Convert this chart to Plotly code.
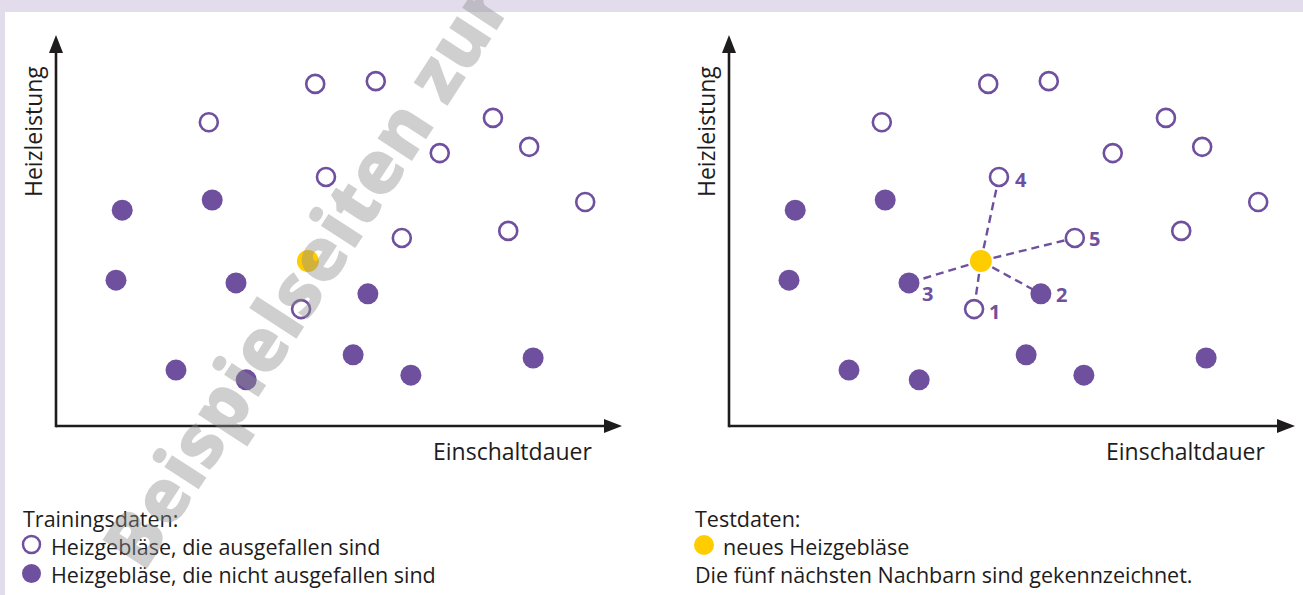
import plotly.graph_objects as go

# ---------------- data (axis units 0..10) ----------------
failed_x = [4.58, 5.65, 2.70, 7.72, 6.78, 8.36, 4.77, 9.35, 6.11, 7.99, 4.33]
failed_y = [8.75, 8.82, 7.77, 7.88, 6.98, 7.14, 6.37, 5.73, 4.81, 4.99, 2.99]

ok_x = [1.17, 2.76, 1.06, 3.18, 5.51, 2.12, 3.36, 5.25, 6.27, 8.43]
ok_y = [5.52, 5.78, 3.73, 3.66, 3.38, 1.43, 1.18, 1.82, 1.30, 1.74]

new_x = [4.45]
new_y = [4.22]

# five nearest neighbours: (group, index) in rank order 1..5
neighbor_ranks = ["1", "2", "3", "4", "5"]
neighbor_refs = [("failed", 10), ("ok", 4), ("ok", 3), ("failed", 6), ("failed", 8)]

x_title = "Einschaltdauer"
y_title = "Heizleistung"
legend_left = ["Trainingsdaten:", "Heizgebläse, die ausgefallen sind",
               "Heizgebläse, die nicht ausgefallen sind"]
legend_right = ["Testdaten:", "neues Heizgebläse",
                "Die fünf nächsten Nachbarn sind gekennzeichnet."]
watermark = "Beispielseiten zur"

# ---------------- style ----------------
W, H = 1303, 595
PURPLE = "#6f509f"
YELLOW = "#ffcc00"
INK = "#1e1c1c"
FONT = "Open Sans"
# label offsets (pixels) for neighbour numbers
label_shift = [(20, -2), (21, -1), (19, -11), (22, -3), (20, -1)]


def px(x):
    return x / W


def py(y):
    return 1 - y / H


fig = go.Figure()
annotations = []

panels = [
    dict(xa="x", ya="y", x0=56, x1=622, knn=False),
    dict(xa="x2", ya="y2", x0=729, x1=1295, knn=True),
]
Y_BOTTOM, Y_TOP = 426, 35

for p in panels:
    if p["knn"]:
        lx, ly = [], []
        for grp, i in neighbor_refs:
            gx = failed_x if grp == "failed" else ok_x
            gy = failed_y if grp == "failed" else ok_y
            lx += [new_x[0], gx[i], None]
            ly += [new_y[0], gy[i], None]
        fig.add_trace(go.Scatter(x=lx, y=ly, mode="lines", xaxis=p["xa"], yaxis=p["ya"],
                                 line=dict(color=PURPLE, width=2.4, dash="8px,5px"),
                                 hoverinfo="skip", showlegend=False))
    fig.add_trace(go.Scatter(x=failed_x, y=failed_y, mode="markers", xaxis=p["xa"], yaxis=p["ya"],
                             marker=dict(size=18, color="white", line=dict(color=PURPLE, width=2.6)),
                             cliponaxis=False, showlegend=False))
    fig.add_trace(go.Scatter(x=ok_x, y=ok_y, mode="markers", xaxis=p["xa"], yaxis=p["ya"],
                             marker=dict(size=21, color=PURPLE, line=dict(width=0)),
                             cliponaxis=False, showlegend=False))
    fig.add_trace(go.Scatter(x=new_x, y=new_y, mode="markers", xaxis=p["xa"], yaxis=p["ya"],
                             marker=dict(size=22, color=YELLOW, line=dict(width=0)),
                             cliponaxis=False, showlegend=False))

    if p["knn"]:
        for (grp, i), r, (dx, dy) in zip(neighbor_refs, neighbor_ranks, label_shift):
            gx = failed_x if grp == "failed" else ok_x
            gy = failed_y if grp == "failed" else ok_y
            annotations.append(dict(x=gx[i], y=gy[i], xref=p["xa"], yref=p["ya"], text=r,
                                    showarrow=False, xshift=dx, yshift=dy,
                                    font=dict(family=FONT, size=20, color=PURPLE, weight="bold")))

axis_common = dict(visible=False, range=[0, 10], fixedrange=True)
layout_axes = {}
for k, p in enumerate(panels, start=1):
    sfx = "" if k == 1 else str(k)
    layout_axes["xaxis" + sfx] = dict(axis_common, domain=[px(p["x0"]), px(p["x1"])],
                                      anchor="y" + sfx)
    layout_axes["yaxis" + sfx] = dict(axis_common, domain=[py(Y_BOTTOM), py(Y_TOP)],
                                      anchor="x" + sfx)

shapes = [
    dict(type="rect", xref="paper", yref="paper", x0=0, x1=1, y0=py(12), y1=1,
         fillcolor="#e2dcec", line=dict(width=0), layer="below"),
    dict(type="rect", xref="paper", yref="paper", x0=0, x1=px(5), y0=0, y1=1,
         fillcolor="#e2dcec", line=dict(width=0), layer="below"),
]
for p in panels:
    ox, tipx = p["x0"], p["x1"]
    # axis lines
    shapes.append(dict(type="line", xref="paper", yref="paper",
                       x0=px(ox), x1=px(tipx - 14), y0=py(Y_BOTTOM), y1=py(Y_BOTTOM),
                       line=dict(color=INK, width=2.6)))
    shapes.append(dict(type="line", xref="paper", yref="paper",
                       x0=px(ox), x1=px(ox), y0=py(Y_BOTTOM + 1.3), y1=py(Y_TOP + 14),
                       line=dict(color=INK, width=2.6)))
    # arrow heads
    shapes.append(dict(type="path", xref="paper", yref="paper",
                       path=f"M {px(tipx)} {py(Y_BOTTOM)} L {px(tipx - 18)} {py(Y_BOTTOM - 7)} "
                            f"L {px(tipx - 18)} {py(Y_BOTTOM + 7)} Z",
                       fillcolor=INK, line=dict(width=0)))
    shapes.append(dict(type="path", xref="paper", yref="paper",
                       path=f"M {px(ox)} {py(Y_TOP)} L {px(ox - 7)} {py(Y_TOP + 18)} "
                            f"L {px(ox + 7)} {py(Y_TOP + 18)} Z",
                       fillcolor=INK, line=dict(width=0)))
    annotations.append(dict(xref="paper", yref="paper", x=px(ox - 23), y=py(132),
                            text=y_title, textangle=-90, showarrow=False,
                            xanchor="center", yanchor="middle",
                            font=dict(family=FONT, size=23, color=INK)))
    annotations.append(dict(xref="paper", yref="paper", x=px(tipx - 28), y=py(451),
                            text=x_title, showarrow=False, xanchor="right", yanchor="middle",
                            font=dict(family=FONT, size=23, color=INK)))

# legends
leg_rows = [518, 546, 574]
for i, t in enumerate(legend_left):
    annotations.append(dict(xref="paper", yref="paper", x=px(21 if i == 0 else 49), y=py(leg_rows[i]),
                            text=t, showarrow=False, xanchor="left", yanchor="middle",
                            font=dict(family=FONT, size=21.5, color=INK)))
for i, t in enumerate(legend_right):
    annotations.append(dict(xref="paper", yref="paper", x=px(693 if i != 1 else 721), y=py(leg_rows[i]),
                            text=t, showarrow=False, xanchor="left", yanchor="middle",
                            font=dict(family=FONT, size=21.5, color=INK)))
# legend symbols
shapes.append(dict(type="circle", xref="paper", yref="paper",
                   x0=px(23), x1=px(40), y0=py(553), y1=py(536),
                   fillcolor="white", line=dict(color=PURPLE, width=2.5)))
shapes.append(dict(type="circle", xref="paper", yref="paper",
                   x0=px(22), x1=px(41), y0=py(583), y1=py(564),
                   fillcolor=PURPLE, line=dict(width=0)))
shapes.append(dict(type="circle", xref="paper", yref="paper",
                   x0=px(694), x1=px(714), y0=py(555), y1=py(535),
                   fillcolor=YELLOW, line=dict(width=0)))

# watermark
annotations.append(dict(xref="paper", yref="paper", x=px(305), y=py(274), text=watermark,
                        showarrow=False, textangle=-57, xanchor="center", yanchor="middle",
                        font=dict(family=FONT, size=74, color="rgba(140,140,140,0.42)",
                                  weight=800)))

fig.update_layout(
    width=W, height=H,
    margin=dict(l=0, r=0, t=0, b=0),
    paper_bgcolor="white", plot_bgcolor="rgba(0,0,0,0)",
    showlegend=False,
    **layout_axes,
)
fig.layout.shapes = shapes
fig.layout.annotations = annotations

fig.write_html("out.html", config={"displayModeBar": False},
               post_script="document.body.style.margin='0';document.body.style.overflow='hidden';")
